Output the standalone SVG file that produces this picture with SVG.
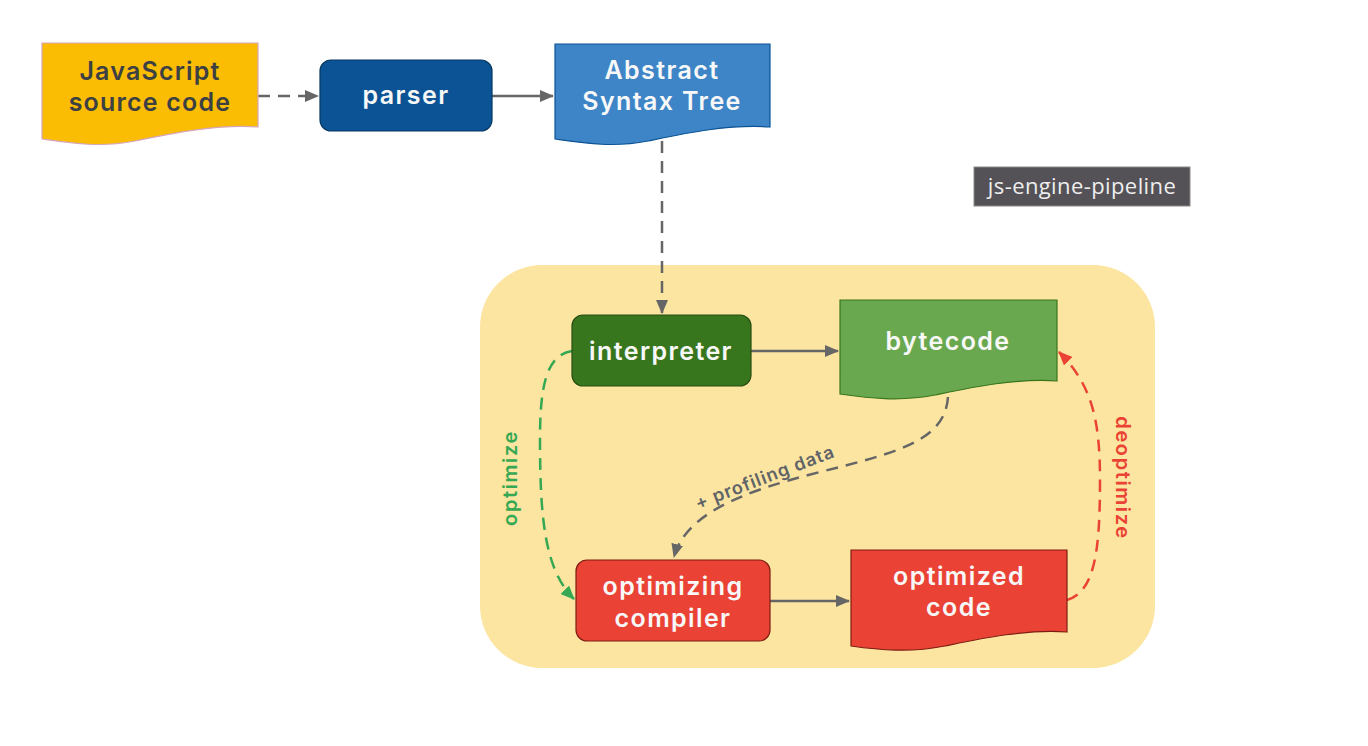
<svg xmlns="http://www.w3.org/2000/svg" width="1368" height="746" viewBox="0 0 1368 746">
<defs>
<marker id="ag" viewBox="0 0 14 12" refX="13" refY="6" markerWidth="14" markerHeight="12" markerUnits="userSpaceOnUse" orient="auto"><path d="M0,0 L14,6 L0,12 Z" fill="#666666"/></marker>
<marker id="agr" viewBox="0 0 14 12" refX="13" refY="6" markerWidth="14" markerHeight="12" markerUnits="userSpaceOnUse" orient="auto"><path d="M0,0 L14,6 L0,12 Z" fill="#34a853"/></marker>
<marker id="ar" viewBox="0 0 14 12" refX="13" refY="6" markerWidth="14" markerHeight="12" markerUnits="userSpaceOnUse" orient="auto"><path d="M0,0 L14,6 L0,12 Z" fill="#ea4335"/></marker>
</defs>
<style>
.t{font-family:Inter,"Open Sans",sans-serif;font-weight:600;text-anchor:middle}
.w{fill:#f8f8f8;font-size:25px;letter-spacing:1.4px}
.c{fill:none;stroke-width:2.5}
.d{stroke-dasharray:12,8}
</style>
<rect width="1368" height="746" fill="#ffffff"/>
<g id="engine"><rect x="480" y="265" width="675" height="403" rx="62" fill="#fce5a0"/></g>
<g id="connectors">
<path class="c d" d="M258,96 H318" stroke="#666666" marker-end="url(#ag)"/>
<path class="c" d="M492,96 H553" stroke="#666666" marker-end="url(#ag)"/>
<path class="c d" d="M662,141 V313" stroke="#666666" marker-end="url(#ag)"/>
<path class="c" d="M751,351 H838" stroke="#666666" marker-end="url(#ag)"/>
<path class="c" d="M770,601 H849" stroke="#666666" marker-end="url(#ag)"/>
<path class="c d" d="M948,397 C945,440 900,452 820,472 C740,492 685,515 674,557" stroke="#666666" marker-end="url(#ag)"/>
<path class="c d" d="M572,351 C545,355 540,390 540,440 C540,520 545,570 574,599" stroke="#34a853" marker-end="url(#agr)"/>
<path class="c d" d="M1067,600 C1095,592 1100,550 1100,480 C1100,420 1092,385 1059,352" stroke="#ea4335" marker-end="url(#ar)"/>
<text class="t" font-size="20" letter-spacing="1.6" fill="#34a853" transform="translate(517,478) rotate(-90)">optimize</text>
<text class="t" font-size="20" letter-spacing="1.6" fill="#ea4335" transform="translate(1116,478) rotate(90)">deoptimize</text>
<text class="t" font-size="18" letter-spacing="1" fill="#5f6368" transform="translate(767,483) rotate(-21)">+ profiling data</text>
</g>
<g id="js-source">
<path d="M42,43 H258 V127 C215,124 170,134 135,141 C100,148 70,143 42,139 Z" fill="#fbbc04" stroke="#d5a6bd" stroke-width="1.2"/>
<text class="t" font-size="25" letter-spacing="1.2" fill="#3c4043" x="150" y="80">JavaScript</text>
<text class="t" font-size="25" letter-spacing="1.2" fill="#3c4043" x="150" y="111">source code</text>
</g>
<g id="parser">
<rect x="320" y="60" width="172" height="71" rx="11" fill="#0b5394" stroke="#073763" stroke-width="1.2"/>
<text class="t w" x="406" y="104">parser</text>
</g>
<g id="ast">
<path d="M555,44 H770 V127 C727,124 682,134 648,141 C613,148 583,143 555,139 Z" fill="#3d85c6" stroke="#0b5394" stroke-width="1.2"/>
<text class="t w" x="662" y="79">Abstract</text>
<text class="t w" x="662" y="110">Syntax Tree</text>
</g>
<g id="label">
<rect x="974" y="167" width="216" height="39" fill="#545157" stroke="#8a8a8a" stroke-width="1"/>
<text x="1082" y="194" font-family="'Open Sans','Noto Sans',sans-serif" font-size="22" letter-spacing="0.4" fill="#eeeeee" text-anchor="middle">js-engine-pipeline</text>
</g>
<g id="interpreter">
<rect x="572" y="315" width="179" height="71" rx="11" fill="#38761d" stroke="#274e13" stroke-width="1.2"/>
<text class="t w" x="661" y="360">interpreter</text>
</g>
<g id="bytecode">
<path d="M840,300 H1057 V381 C1014,378 969,388 935,395 C900,402 868,398 840,394 Z" fill="#6aa84f" stroke="#38761d" stroke-width="1.2"/>
<text class="t w" x="948" y="350">bytecode</text>
</g>
<g id="compiler">
<rect x="576" y="560" width="194" height="81" rx="11" fill="#ea4335" stroke="#7f1d12" stroke-width="1.2"/>
<text class="t w" x="673" y="595">optimizing</text>
<text class="t w" x="673" y="627">compiler</text>
</g>
<g id="optimized">
<path d="M851,550 H1067 V632 C1024,629 979,639 945,646 C910,653 879,650 851,646 Z" fill="#ea4335" stroke="#7f1d12" stroke-width="1.2"/>
<text class="t w" x="959" y="585">optimized</text>
<text class="t w" x="959" y="616">code</text>
</g>
</svg>
